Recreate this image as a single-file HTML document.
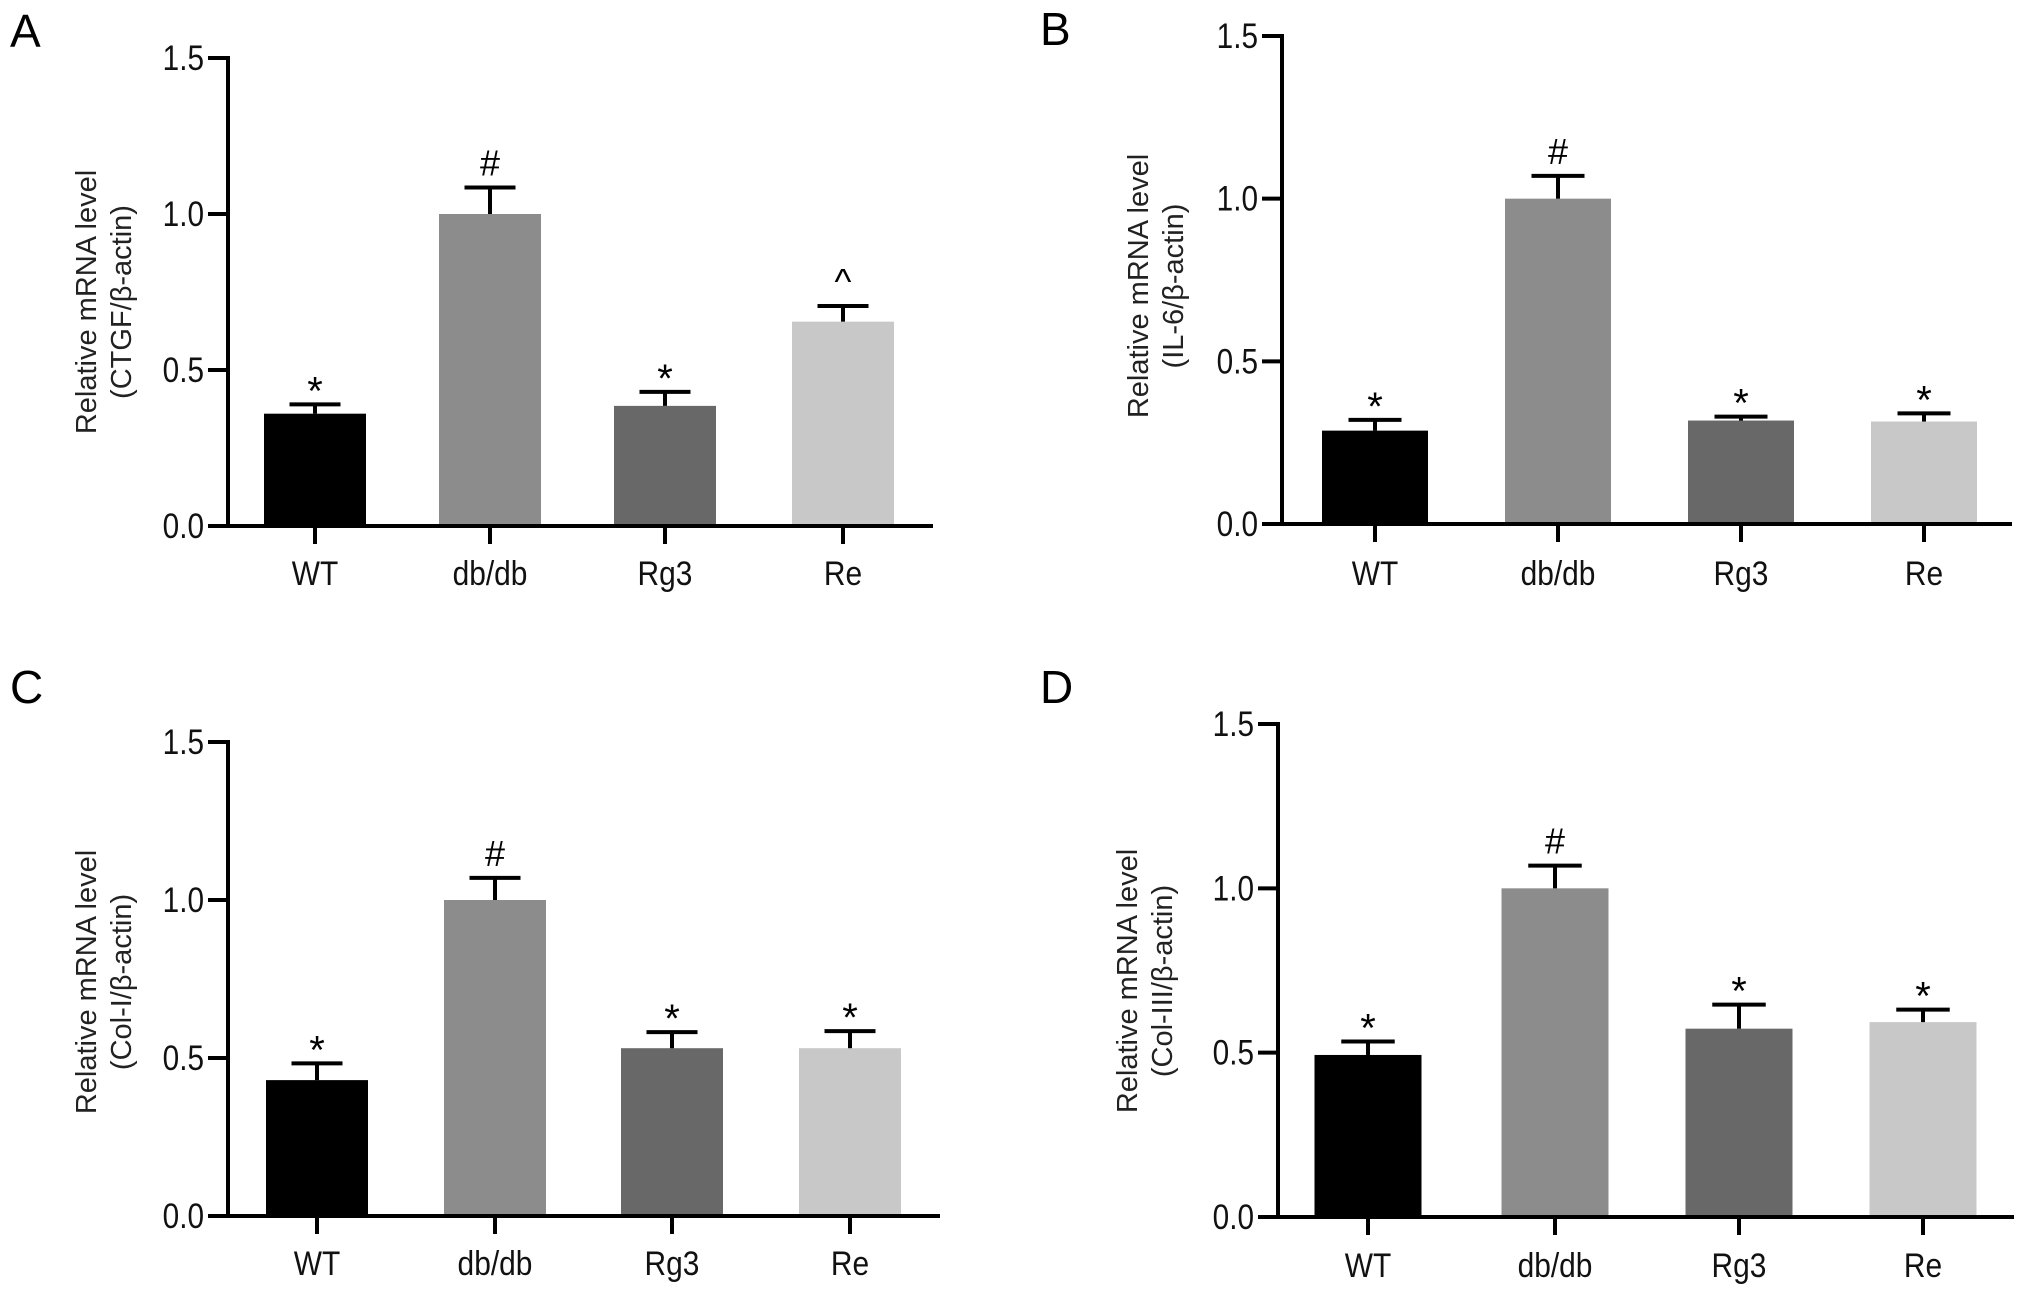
<!DOCTYPE html>
<html><head><meta charset="utf-8">
<style>
html,body{margin:0;padding:0;background:#fff;}
svg{display:block;font-family:"Liberation Sans",Arial,sans-serif;}
</style></head>
<body>
<svg id="fig" width="2032" height="1296" viewBox="0 0 2032 1296"></svg>
<script>
const categories = ["WT","db/db","Rg3","Re"];
const barColors = ["#000000","#8c8c8c","#686868","#c8c8c8"];
const yTicks = [0.0, 0.5, 1.0, 1.5];
const yTickLabels = ["0.0","0.5","1.0","1.5"];
const valuesA = [0.36, 1.0, 0.385, 0.655];
const errorsA = [0.03, 0.085, 0.045, 0.05];
const marksA = ["*","#","*","^"];
const valuesB = [0.287, 1.0, 0.318, 0.315];
const errorsB = [0.033, 0.07, 0.012, 0.025];
const marksB = ["*","#","*","*"];
const valuesC = [0.43, 1.0, 0.531, 0.531];
const errorsC = [0.053, 0.07, 0.051, 0.054];
const marksC = ["*","#","*","*"];
const valuesD = [0.493, 1.0, 0.573, 0.593];
const errorsD = [0.041, 0.069, 0.073, 0.038];
const marksD = ["*","#","*","*"];
const titlesA = ["Relative mRNA level","(CTGF/\u03b2-actin)"];
const titlesB = ["Relative mRNA level","(IL-6/\u03b2-actin)"];
const titlesC = ["Relative mRNA level","(Col-I/\u03b2-actin)"];
const titlesD = ["Relative mRNA level","(Col-III/\u03b2-actin)"];

const NS = "http://www.w3.org/2000/svg";
const svg = document.getElementById("fig");
function mk(tag, attrs, parent, text){
  const e = document.createElementNS(NS, tag);
  for (const k in attrs) e.setAttribute(k, attrs[k]);
  if (text !== undefined) e.textContent = text;
  parent.appendChild(e);
  return e;
}

const panels = [
  {id:"a", letter:"A", lx:10, ly:47, ax:228, y0:526, y1:58, xend:933, centers:[315,490,665,843], bw:102, labY:585, tx:96, ty:302, vals:valuesA, errs:errorsA, marks:marksA, titles:titlesA},
  {id:"b", letter:"B", lx:1040, ly:45, ax:1282, y0:524, y1:36, xend:2012, centers:[1375,1558,1741,1924], bw:106, labY:585, tx:1148, ty:286, vals:valuesB, errs:errorsB, marks:marksB, titles:titlesB},
  {id:"c", letter:"C", lx:10, ly:703, ax:228, y0:1216, y1:742, xend:940, centers:[317,495,672,850], bw:102, labY:1275, tx:96, ty:982, vals:valuesC, errs:errorsC, marks:marksC, titles:titlesC},
  {id:"d", letter:"D", lx:1040, ly:703, ax:1278, y0:1217, y1:724, xend:2014, centers:[1368,1555,1739,1923], bw:107, labY:1277, tx:1137, ty:981, vals:valuesD, errs:errorsD, marks:marksD, titles:titlesD}
];

panels.forEach(p => {
  const g = mk("g", {}, svg);
  
  
  const yScale = v => p.y0 - (v - yTicks[0]) / (yTicks[yTicks.length-1] - yTicks[0]) * (p.y0 - p.y1);

  const letter = mk("text", {x:p.lx, y:p.ly, "font-size":46, fill:"#000"}, g, p.letter);
  
  

  p.vals.forEach((v, i) => {
    const cx = p.centers[i];
    const top = yScale(v);
    const bar = mk("rect", {x:cx - p.bw/2, y:top, width:p.bw, height:p.y0 - top, fill:barColors[i]}, g);
    
    
    const et = yScale(v + p.errs[i]);
    const eb = mk("g", {stroke:"#000", "stroke-width":4}, g);
    
    
    mk("line", {x1:cx, x2:cx, y1:top, y2:et}, eb);
    mk("line", {x1:cx - p.bw/4, x2:cx + p.bw/4, y1:et, y2:et}, eb);
    const m = p.marks[i];
    const sym = mk("text", {x:cx, y:et - (m === "*" ? 0 : 12), "text-anchor":"middle", "font-size": m === "*" ? 40 : 36, fill:"#000"}, g, m);
    
    
  });

  const yAxis = mk("line", {x1:p.ax, x2:p.ax, y1:p.y1 - 2, y2:p.y0 + 2, stroke:"#000", "stroke-width":4}, g);
  
  
  const xAxis = mk("line", {x1:p.ax - 2, x2:p.xend, y1:p.y0, y2:p.y0, stroke:"#000", "stroke-width":4}, g);
  
  

  yTicks.forEach((t, i) => {
    const y = yScale(t);
    const tk = mk("line", {x1:p.ax - 20, x2:p.ax, y1:y, y2:y, stroke:"#000", "stroke-width":4}, g);
    
    
    const lx = p.ax - 24;
    const lb = mk("text", {x:lx, y:y + 12, "text-anchor":"end", "font-size":35, fill:"#111", transform:`translate(${lx} 0) scale(0.85 1) translate(${-lx} 0)`}, g, yTickLabels[i]);
    
    
  });

  categories.forEach((c, i) => {
    const cx = p.centers[i];
    const tk = mk("line", {x1:cx, x2:cx, y1:p.y0, y2:p.y0 + 18, stroke:"#000", "stroke-width":4}, g);
    
    
    const lb = mk("text", {x:cx, y:p.labY, "text-anchor":"middle", "font-size":34, fill:"#111", transform:`translate(${cx} 0) scale(0.88 1) translate(${-cx} 0)`}, g, c);
    
    
  });

  const tt = mk("text", {transform:`translate(${p.tx} ${p.ty}) rotate(-90)`, "text-anchor":"middle", "font-size":29, fill:"#222"}, g);
  
  
  mk("tspan", {x:0, y:0}, tt, p.titles[0]);
  mk("tspan", {x:0, y:35}, tt, p.titles[1]);
});
</script>
</body></html>
